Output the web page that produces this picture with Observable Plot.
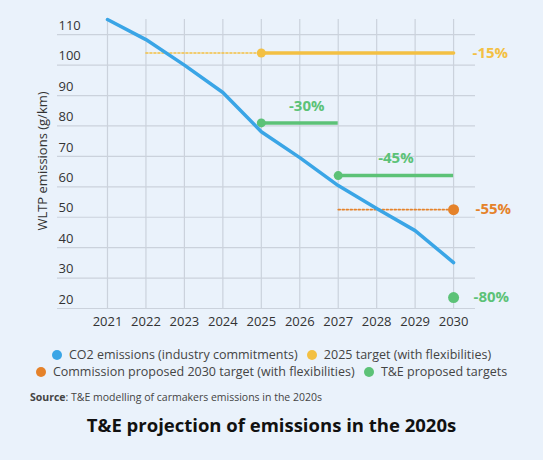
<!DOCTYPE html>
<html><head><meta charset="utf-8">
<script src="https://cdn.jsdelivr.net/npm/d3@7"></script>
<script src="https://cdn.jsdelivr.net/npm/@observablehq/plot@0.6"></script>
<style>
body{margin:0;background:#eaf2fb;font-family:"Open Sans",sans-serif;}
#wrap{width:543px;height:460px;background:#eaf2fb;}
.legend{text-align:center;font-size:12.5px;color:#444;line-height:17px;margin-top:11px;}
.legend span.item{white-space:nowrap;margin:0 3px;}
.legend i{display:inline-block;width:10px;height:10px;border-radius:50%;margin-right:7px;vertical-align:-1px;}
.source{font-size:10.5px;color:#444;margin:10px 0 0 30px;}
.title{font-size:18.5px;font-weight:bold;color:#111;text-align:center;margin-top:8px;}
</style></head><body><div id="wrap"></div><script>
const years = [2021, 2022, 2023, 2024, 2025, 2026, 2027, 2028, 2029, 2030];
const co2Emissions = [115, 108.4, 100, 91, 78.1, 69.6, 60.4, 52.9, 45.6, 35.1];
const yTicks = [20, 30, 40, 50, 60, 70, 80, 90, 100, 110];

const target2025Dotted = [2022, 2025];
const target2025Solid = [2025, 2030];
const target2025Value = 104;
const target2025Label = "-15%";

const commission2030Dotted = [2027, 2030];
const commission2030Value = 52.5;
const commission2030Label = "-55%";

const teSegments = [
  {from: 2025, to: 2027, value: 81, label: "-30%"},
  {from: 2027, to: 2030, value: 63.7, label: "-45%"}
];
const tePoint = {year: 2030, value: 23.6, label: "-80%"};

const legendItems = [
  {name: "CO2 emissions (industry commitments)", color: "#3aa5e6"},
  {name: "2025 target (with flexibilities)", color: "#f3c043"},
  {name: "Commission proposed 2030 target (with flexibilities)", color: "#e5822a"},
  {name: "T&E proposed targets", color: "#5cc277"}
];
const [cBlue, cYellow, cOrange, cGreen] = legendItems.map(d => d.color);

const co2 = years.map((y, i) => ({year: y, value: co2Emissions[i]}));
const labelStyle = {fontSize: 15, fontWeight: "bold"};

const chart = Plot.plot({
  width: 543,
  height: 335,
  marginLeft: 57,
  marginRight: 68,
  marginTop: 19,
  marginBottom: 27,
  style: {background: "transparent", fontFamily: "Open Sans, sans-serif"},
  x: {domain: [2019.7, 2030.57], axis: null},
  y: {domain: [20, 115], axis: null},
  marks: [
    Plot.ruleY(yTicks, {stroke: "#cbd2dc", strokeWidth: 1.2}),
    Plot.ruleX(years, {stroke: "#cbd2dc", strokeWidth: 1.2}),
    Plot.text(yTicks, {y: d => d, frameAnchor: "left", textAnchor: "start", dx: 1, dy: -9, fontSize: 13, fill: "#333", text: d => String(d)}),
    Plot.text(years, {x: d => d, frameAnchor: "bottom", dy: 17, fontSize: 13, fill: "#333", text: d => String(d)}),
    Plot.text(["WLTP emissions (g/km)"], {frameAnchor: "left", textAnchor: "middle", rotate: -90, dx: -15, dy: -3, fontSize: 13, fill: "#333"}),
    // 2025 target
    Plot.line(target2025Dotted, {x: d => d, y: () => target2025Value, stroke: cYellow, strokeWidth: 1.6, strokeDasharray: "2,2"}),
    Plot.line(target2025Solid, {x: d => d, y: () => target2025Value, stroke: cYellow, strokeWidth: 3.5}),
    Plot.dot([target2025Solid[0]], {x: d => d, y: () => target2025Value, r: 4.5, fill: cYellow}),
    Plot.text([target2025Label], {x: () => target2025Solid[1], y: () => target2025Value, dx: 19, textAnchor: "start", fill: cYellow, ...labelStyle}),
    // T&E segments
    Plot.ruleY(teSegments, {x1: "from", x2: "to", y: "value", stroke: cGreen, strokeWidth: 3.5}),
    Plot.dot(teSegments, {x: "from", y: "value", r: 4.5, fill: cGreen}),
    Plot.text(teSegments.slice(0, 1), {x: d => (d.from + d.to) / 2, y: "value", text: "label", dx: 7, dy: -17, fill: cGreen, ...labelStyle}),
    Plot.text(teSegments.slice(1), {x: d => (d.from + d.to) / 2, y: "value", text: "label", dx: 0, dy: -17, fill: cGreen, ...labelStyle}),
    // Commission 2030
    Plot.line(commission2030Dotted, {x: d => d, y: () => commission2030Value, stroke: cOrange, strokeWidth: 1.6, strokeDasharray: "2,2"}),
    // CO2 line
    Plot.line(co2, {x: "year", y: "value", stroke: cBlue, strokeWidth: 3.5}),
    Plot.dot([commission2030Dotted[1]], {x: d => d, y: () => commission2030Value, r: 5.5, fill: cOrange}),
    Plot.text([commission2030Label], {x: () => commission2030Dotted[1], y: () => commission2030Value, dx: 22, textAnchor: "start", fill: cOrange, ...labelStyle}),
    // T&E 2030 point
    Plot.dot([tePoint], {x: "year", y: "value", r: 5.5, fill: cGreen}),
    Plot.text([tePoint], {x: "year", y: "value", text: "label", dx: 20, textAnchor: "start", fill: cGreen, ...labelStyle})
  ]
});

const wrap = document.getElementById("wrap");
wrap.appendChild(chart);

const legend = document.createElement("div");
legend.className = "legend";
legend.innerHTML = `<div><span class="item"><i style="background:${legendItems[0].color}"></i>${legendItems[0].name}</span> <span class="item"><i style="background:${legendItems[1].color}"></i>${legendItems[1].name}</span></div>
<div><span class="item"><i style="background:${legendItems[2].color}"></i>${legendItems[2].name}</span> <span class="item"><i style="background:${legendItems[3].color}"></i>${legendItems[3].name}</span></div>`;
wrap.appendChild(legend);

const source = document.createElement("div");
source.className = "source";
source.innerHTML = "<b>Source</b>: T&amp;E modelling of carmakers emissions in the 2020s";
wrap.appendChild(source);

const title = document.createElement("div");
title.className = "title";
title.textContent = "T&E projection of emissions in the 2020s";
wrap.appendChild(title);
</script></body></html>
